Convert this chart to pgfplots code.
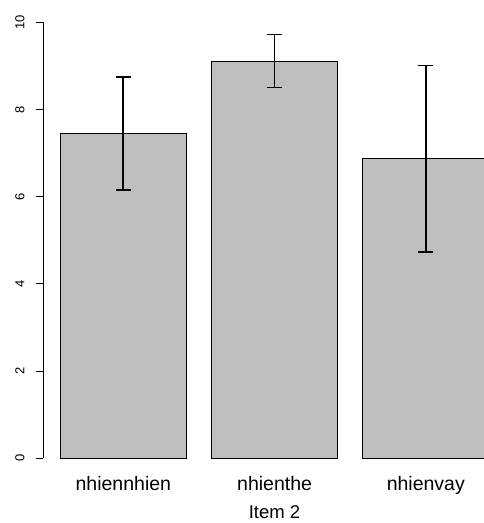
\documentclass[border=0pt]{standalone}
\usepackage{fontspec}
\setmainfont{Liberation Sans}
\usepackage{graphicx}
\usepackage{pgfplots}
\pgfplotsset{compat=1.18}
\definecolor{bargray}{RGB}{190,190,190}
\begin{document}
\begin{tikzpicture}
\useasboundingbox (0pt,0pt) rectangle (483pt,523pt);
\begin{axis}[
  at={(43.2pt,64.7pt)}, anchor=south west,
  scale only axis, width=439.8pt, height=436pt,
  xmin=0.064, xmax=3.554, ymin=0, ymax=10,
  clip=false,
  axis y line*=left, axis x line*=bottom,
  x axis line style={draw=none},
  y axis line style={line width=0.8pt},
  xtick={0.7,1.9,3.1},
  xticklabels={nhiennhien,nhienthe,nhienvay},
  xtick style={draw=none},
  ytick={0,2,4,6,8,10},
  ytick style={line width=0.8pt, black},
  /pgf/number format/assume math mode=true,
  tick align=outside, major tick length=7.5pt,
  yticklabel={\rotatebox{90}{\pgfmathprintnumber{\tick}}},
  yticklabel style={font=\fontsize{13}{13}\selectfont, anchor=east, inner sep=0pt, xshift=-11pt},
  xticklabel style={font=\fontsize{19.5}{20}\selectfont, anchor=base, inner sep=0pt, yshift=-24.7pt},
  xlabel={Item 2},
  xlabel style={font=\fontsize{18.5}{19}\selectfont, at={(axis description cs:0.526,0)}, anchor=base, yshift=-59.7pt, inner sep=0pt},
  ybar, bar width=1,
]
\addplot[fill=bargray, draw=black, line width=0.9pt,
  error bars/.cd, y dir=both, y explicit, error mark=|,
  error bar style={line width=1.7pt, black},
  error mark options={line width=1.7pt, black, mark size=7.6pt}]
  coordinates {
   (0.7,7.453) +- (0,1.30)
   (1.9,9.112) +- (0,0.61)
   (3.1,6.872) +- (0,2.14)
  };
\end{axis}
\end{tikzpicture}
\end{document}
